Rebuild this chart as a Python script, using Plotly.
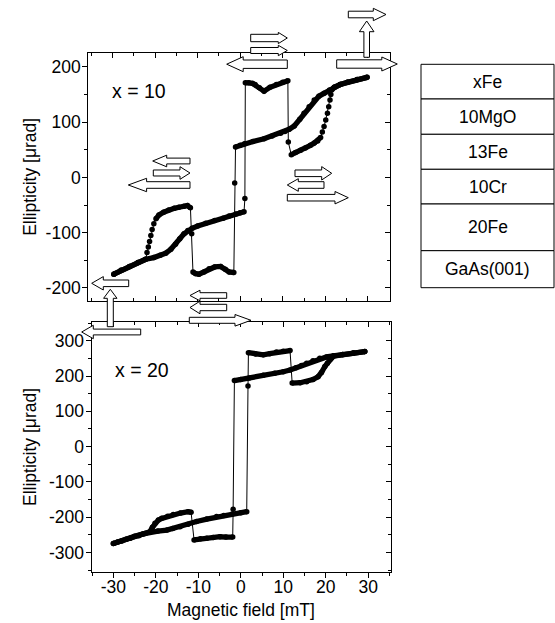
import plotly.graph_objects as go

W, H = 555, 623

# ---------------- data : x = 10 (upper panel) ----------------
top_up_field = [-29.7, -28, -26, -24, -22.2, -21.9, -21.6, -21.3, -21.0, -20.7, -20.3, -19.8, -19.1,
                -18, -16.8, -15.5, -14.4, -13.2, -12.4, -11.7, -11.4, -11.1,
                -10.5, -9.7, -8.5, -7.3, -6, -4.6, -3.5, -2.6, -1.5, -1.3, -1.1,
                0, 1, 3, 5.6, 7.5, 9.5, 10.5, 11.5, 12.7, 14, 15, 16.2, 17.4, 18.5, 19.7,
                21, 22.1, 23.5, 25.2, 27.5, 29.8]
top_up_ell = [-175, -168, -161, -154, -148, -136, -126, -116, -105, -94, -84, -75, -68,
              -63, -59, -56, -54, -52, -51, -55, -102, -171,
              -174, -175, -171, -165, -162, -161, -166, -171, -172, -10, 55,
              58, 61, 65, 70, 75, 80, 83, 87, 93, 105, 116, 128, 140, 147, 152,
              158, 163, 168, 172, 177, 181]

top_down_field = [29.8, 27.5, 25.2, 23.5, 22.1, 21.5, 21.3, 21.1, 20.8, 20.5, 20.1, 19.7, 19.3, 18.9,
                  18.2, 17.4, 16.5, 15.3, 14.2, 13, 12, 11.3, 11.2,
                  10, 8.5, 7, 5.6, 4.5, 3.5, 2.9, 2, 1.2, 1.1, 0.9,
                  0, -1, -2.6, -4, -6, -8.1, -10, -11.3, -12.3, -13.2, -14.2, -15.2, -16.3,
                  -17.5, -18.8, -20.3, -22.2, -24, -26, -28, -29.7]
top_down_ell = [181, 177, 172, 168, 163, 158, 150, 140, 128, 116, 104, 92, 82, 72,
                66, 62, 58, 53, 49, 45, 41, 64, 175,
                172, 168, 163, 156, 162, 168, 170, 171, 171, -38, -62,
                -64, -66, -70, -74, -78, -83, -88, -92, -96, -102, -111, -121, -130,
                -137, -141, -145, -148, -154, -161, -168, -175]

# ---------------- data : x = 20 (lower panel) ----------------
bot_up_field = [-30, -28, -26, -24, -22.5, -21.4, -20.8, -20.2, -19.4, -18.6, -17.2, -15.9, -14.2,
                -12.4, -11.7, -11.0, -9.5, -8, -6.5, -4.9, -3.5, -1.9, -1.8, -1.5,
                0, 2, 5.3, 8, 10, 11.6, 13, 14.3, 15.5, 17, 18.6, 20.2, 21.8, 24, 26.5, 29.2]
bot_up_ell = [-274, -267, -259, -252, -246, -241, -228, -217, -208, -203, -197, -192, -188,
              -184, -186, -264, -261, -259, -257, -255, -256, -256, -177, 187,
              190, 194, 202, 208, 212, 217, 223, 230, 236, 243, 250, 254, 257, 261, 265, 269]

bot_down_field = [29.2, 26.5, 24, 21.8, 21.4, 21, 20.4, 19.8, 19, 18.2, 17, 15.5, 14, 12.1, 11.6,
                  10, 8.4, 6.8, 5.3, 3.5, 1.8, 1.7, 1.4,
                  0, -2, -4, -5.7, -8, -10.4, -12.4, -14.3, -16, -17.4, -19.5, -21.4,
                  -23, -25, -27, -29, -30]
bot_down_ell = [269, 265, 261, 256, 251, 246, 236, 227, 210, 198, 190, 184, 181, 180, 272,
                270, 268, 263, 260, 262, 266, 172, -184,
                -187, -191, -195, -198, -205, -212, -220, -227, -232, -236, -239, -242,
                -247, -254, -262, -270, -274]

x_ticks = [-30, -20, -10, 0, 10, 20, 30]
x_ticktext = ["-30", "-20", "-10", "0", "10", "20", "30"]
top_yticks = [-200, -100, 0, 100, 200]
top_yticktext = ["-200", "-100", "0", "100", "200"]
bot_yticks = [-300, -200, -100, 0, 100, 200, 300]
bot_yticktext = ["-300", "-200", "-100", "0", "100", "200", "300"]

layers = ["xFe", "10MgO", "13Fe", "10Cr", "20Fe", "GaAs(001)"]
panel_labels = ["x = 10", "x = 20"]

# ---------------- layout geometry (pixels) ----------------
FONT = "Liberation Sans, Arial, sans-serif"
FS = 17.5
TOP = dict(l=88.3, r=390.0, t=53.0, b=300.7, xr=[-35.7, 35.2], yr=[-223, 225])
BOT = dict(l=91.7, r=390.7, t=322.3, b=571.7, xr=[-35.1, 35.3], yr=[-354, 352])
LAYER_BOX = dict(l=421, r=554, edges=[64.3, 99, 134.3, 169.3, 204, 250.7, 287.7])


def px(x):
    return x / W


def py(y):
    return 1 - y / H


fig = go.Figure()


def thick_version(xs, ys, sx, sy):
    ox, oy = [xs[0]], [ys[0]]
    for i in range(1, len(xs)):
        dxp = abs(xs[i] - xs[i - 1]) * sx
        dyp = abs(ys[i] - ys[i - 1]) * sy
        if dyp > 4 and dyp > 2.2 * dxp:
            ox.append(None)
            oy.append(None)
        ox.append(xs[i])
        oy.append(ys[i])
    return ox, oy


def add_branch(xs, ys, xa, ya, box):
    sx = (box["r"] - box["l"]) / (box["xr"][1] - box["xr"][0])
    sy = (box["b"] - box["t"]) / (box["yr"][1] - box["yr"][0])
    fig.add_trace(go.Scatter(x=xs, y=ys, xaxis=xa, yaxis=ya, mode="lines+markers",
                             line=dict(color="black", width=1),
                             marker=dict(color="black", size=5.5),
                             hoverinfo="skip"))
    tx, ty = thick_version(xs, ys, sx, sy)
    fig.add_trace(go.Scatter(x=tx, y=ty, xaxis=xa, yaxis=ya, mode="lines",
                             line=dict(color="black", width=5.3),
                             connectgaps=False, hoverinfo="skip"))


add_branch(top_up_field, top_up_ell, "x", "y", TOP)
add_branch(top_down_field, top_down_ell, "x", "y", TOP)
add_branch(bot_up_field, bot_up_ell, "x2", "y2", BOT)
add_branch(bot_down_field, bot_down_ell, "x2", "y2", BOT)
# dummy traces for the mirror axes
fig.add_trace(go.Scatter(x=[None], y=[None], xaxis="x3", yaxis="y", showlegend=False))
fig.add_trace(go.Scatter(x=[None], y=[None], xaxis="x", yaxis="y3", showlegend=False))
fig.add_trace(go.Scatter(x=[None], y=[None], xaxis="x4", yaxis="y2", showlegend=False))
fig.add_trace(go.Scatter(x=[None], y=[None], xaxis="x2", yaxis="y4", showlegend=False))

tickfont = dict(family=FONT, size=FS, color="black")


def axis(domain, rng, ticks, tickvals=None, ticktext=None, dtick=10, minor=5, **kw):
    d = dict(domain=domain, range=rng, showline=True, linecolor="black", linewidth=1.3,
             ticks=ticks, ticklen=5, tickwidth=1, tickcolor="black",
             showgrid=False, zeroline=False, fixedrange=True, automargin=False,
             tickfont=tickfont,
             minor=dict(dtick=minor, tick0=0, ticks=ticks, ticklen=3, tickwidth=1,
                        tickcolor="black", showgrid=False))
    if tickvals is not None:
        d.update(tickmode="array", tickvals=tickvals, ticktext=ticktext, showticklabels=True)
    else:
        d.update(tickmode="linear", tick0=0, dtick=dtick, showticklabels=False)
    d.update(kw)
    return d


fig.update_layout(
    width=W, height=H, margin=dict(l=0, r=0, t=0, b=0),
    paper_bgcolor="white", plot_bgcolor="white", showlegend=False, hovermode=False,
    xaxis=axis([px(TOP["l"]), px(TOP["r"])], TOP["xr"], "inside", anchor="y"),
    yaxis=axis([py(TOP["b"]), py(TOP["t"])], TOP["yr"], "outside", tickvals=top_yticks,
               ticktext=top_yticktext, minor=50, anchor="x", ticklabelstandoff=-2),
    xaxis3=axis([px(TOP["l"]), px(TOP["r"])], TOP["xr"], "inside", overlaying="x",
                side="top", anchor="y"),
    yaxis3=axis([py(TOP["b"]), py(TOP["t"])], TOP["yr"], "inside", dtick=100, minor=50,
                overlaying="y", side="right", anchor="x"),
    xaxis2=axis([px(BOT["l"]), px(BOT["r"])], BOT["xr"], "outside", tickvals=x_ticks,
                ticktext=x_ticktext, anchor="y2", ticklabelstandoff=-6),
    yaxis2=axis([py(BOT["b"]), py(BOT["t"])], BOT["yr"], "outside", tickvals=bot_yticks,
                ticktext=bot_yticktext, minor=50, anchor="x2", ticklabelstandoff=-2),
    xaxis4=axis([px(BOT["l"]), px(BOT["r"])], BOT["xr"], "inside", overlaying="x2",
                side="top", anchor="y2"),
    yaxis4=axis([py(BOT["b"]), py(BOT["t"])], BOT["yr"], "inside", dtick=100, minor=50,
                overlaying="y2", side="right", anchor="x2"),
)

# ---------------- text ----------------
ann = []


def text_at(x, y, s, angle=0, size=FS):
    ann.append(dict(x=px(x), y=py(y), text=s, textangle=angle, showarrow=False,
                    font=dict(family=FONT, size=size, color="black"),
                    xref="paper", yref="paper", xanchor="center", yanchor="middle"))


text_at(30, (TOP["t"] + TOP["b"]) / 2, "Ellipticity [μrad]", -90)
text_at(30, (BOT["t"] + BOT["b"]) / 2, "Ellipticity [μrad]", -90)
text_at((BOT["l"] + BOT["r"]) / 2, 610, "Magnetic field [mT]")
text_at(139, 91, panel_labels[0], size=19.5)
text_at(142, 370, panel_labels[1], size=19.5)

shapes = []
# layer stack
e = LAYER_BOX["edges"]
for i, name in enumerate(layers):
    shapes.append(dict(type="rect", xref="paper", yref="paper",
                       x0=px(LAYER_BOX["l"]), x1=px(LAYER_BOX["r"]), y0=py(e[i + 1]), y1=py(e[i]),
                       line=dict(color="black", width=1), fillcolor="white", layer="above"))
    text_at((LAYER_BOX["l"] + LAYER_BOX["r"]) / 2, (e[i] + e[i + 1]) / 2, name)

# block arrows: (direction, tail, tip, centre, shaft half, head half, head length)
ARROWS = [
    ("h", 250.7, 287.3, 38.0, 3.7, 5.6, 9),
    ("h", 250.7, 287.3, 50.5, 3.0, 5.2, 9),
    ("h", 287.3, 226.7, 64.2, 4.2, 7.5, 16.5),
    ("h", 336.7, 397.3, 64.0, 4.2, 7.0, 15.5),
    ("v", 57.3, 21.0, 366.7, 2.8, 7.3, 10.7),
    ("h", 348.3, 386.0, 14.5, 3.3, 6.2, 12.7),
    ("h", 190.0, 152.7, 161.0, 2.9, 5.8, 14),
    ("h", 153.3, 190.0, 173.0, 3.0, 6.3, 10),
    ("h", 190.0, 128.3, 185.0, 3.3, 6.7, 18.3),
    ("h", 295.0, 331.7, 173.3, 3.3, 6.7, 10),
    ("h", 324.0, 287.3, 185.0, 3.3, 6.3, 11),
    ("h", 287.3, 348.3, 197.7, 3.3, 6.2, 13.3),
    ("h", 128.7, 91.7, 283.3, 3.3, 6.7, 11.6),
    ("v", 326.7, 289.3, 110.3, 3.0, 6.7, 9),
    ("h", 140.7, 81.7, 332.0, 2.9, 6.7, 11.6),
    ("h", 226.7, 190.0, 295.5, 2.8, 5.3, 10),
    ("h", 226.7, 190.0, 307.5, 3.2, 6.3, 10),
    ("h", 189.3, 251.0, 320.3, 3.0, 5.8, 16),
]


def arrow_path(kind, tail, tip, c, sh, hh, hl):
    s = 1 if tip > tail else -1
    base = tip - s * hl
    pts = [(tail, c - sh), (base, c - sh), (base, c - hh), (tip, c),
           (base, c + hh), (base, c + sh), (tail, c + sh)]
    if kind == "v":
        pts = [(q, p) for p, q in pts]
    return "M " + " L ".join(f"{px(a):.5f},{py(b):.5f}" for a, b in pts) + " Z"


for a in ARROWS:
    shapes.append(dict(type="path", xref="paper", yref="paper", path=arrow_path(*a),
                       line=dict(color="black", width=1), fillcolor="white", layer="above"))

fig.update_layout(annotations=ann, shapes=shapes)
fig.write_html("out.html")
